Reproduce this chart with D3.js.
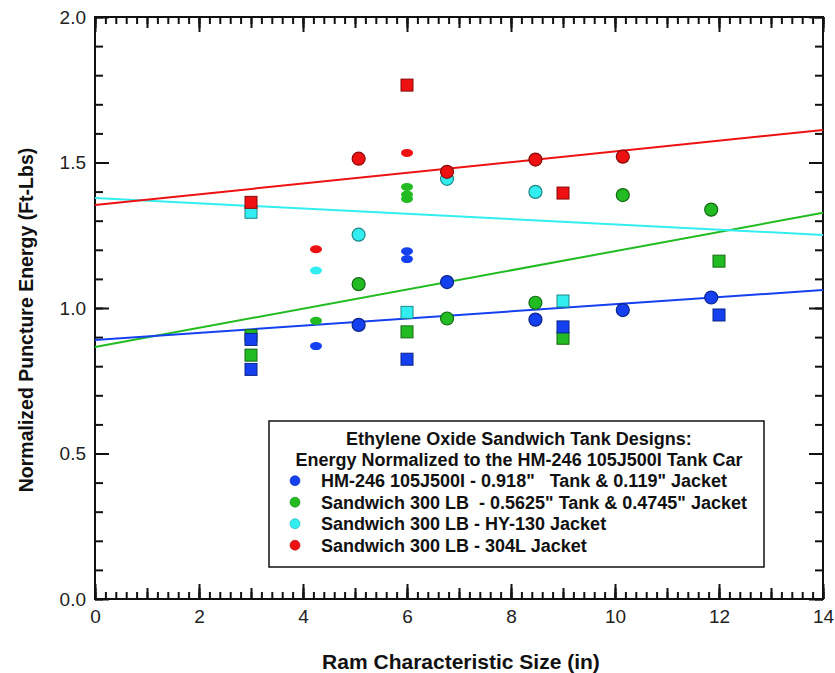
<!DOCTYPE html>
<html>
<head>
<meta charset="utf-8">
<script src="https://cdn.jsdelivr.net/npm/d3@7"></script>
<style>
  body { margin: 0; background: #fff; }
  svg { font-family: "Liberation Sans", Arial, sans-serif; }
  .tick line { stroke: #111; stroke-width: 2px; }
</style>
</head>
<body>
<svg id="chart"></svg>
<script>
// series order: HM-246, Sandwich 0.5625", HY-130, 304L
var seriesNames = [
  "HM-246 105J500I - 0.918\"\u00a0\u00a0\u00a0Tank & 0.119\" Jacket",
  "Sandwich 300 LB\u00a0\u00a0- 0.5625\" Tank & 0.4745\" Jacket",
  "Sandwich 300 LB - HY-130 Jacket",
  "Sandwich 300 LB - 304L Jacket"
];
var seriesColors = ["#1440f0", "#22bb22", "#33eef0", "#ee1111"];

var hmCircles  = [[5.07, 0.942], [6.77, 1.089], [8.47, 0.960], [10.15, 0.993], [11.85, 1.036]];
var hmSquares  = [[3.0, 0.892], [3.0, 0.789], [6.0, 0.824], [9.0, 0.935], [12.0, 0.976]];
var hmDashes   = [[4.25, 0.869], [6.0, 1.195], [6.0, 1.168]];

var swCircles  = [[5.07, 1.082], [6.77, 0.964], [8.47, 1.018], [10.15, 1.388], [11.85, 1.338]];
var swSquares  = [[3.0, 0.905], [3.0, 0.838], [6.0, 0.918], [9.0, 0.896], [12.0, 1.161]];
var swDashes   = [[4.25, 0.956], [6.0, 1.416], [6.0, 1.390], [6.0, 1.375]];

var hyCircles  = [[5.07, 1.252], [6.77, 1.444], [8.47, 1.399]];
var hySquares  = [[3.0, 1.329], [6.0, 0.985], [9.0, 1.024]];
var hyDashes   = [[4.25, 1.129]];

var ssCircles  = [[5.07, 1.513], [6.77, 1.468], [8.47, 1.510], [10.15, 1.520]];
var ssSquares  = [[3.0, 1.363], [6.0, 1.766], [9.0, 1.395]];
var ssDashes   = [[4.25, 1.202], [6.0, 1.533]];

// linear fits, value at x=0 and at x=14
var fitStart = [0.890, 0.866, 1.378, 1.354];
var fitEnd   = [1.062, 1.327, 1.251, 1.612];

var xTickLabels = [0, 2, 4, 6, 8, 10, 12, 14];
var yTickLabels = [0.0, 0.5, 1.0, 1.5, 2.0];

var legendTitle = ["Ethylene Oxide Sandwich Tank Designs:",
                   "Energy Normalized to the HM-246 105J500I Tank Car"];

(function(){
  var W = 835, H = 673;
  var margin = {top: 17, right: 12, bottom: 74, left: 95},
      width = W - margin.left - margin.right,
      height = H - margin.top - margin.bottom;

  var svg = d3.select("#chart").attr("width", W).attr("height", H);
  var g = svg.append("g").attr("transform", "translate(" + margin.left + "," + margin.top + ")");

  var x = d3.scaleLinear().domain([0, 14]).range([0, width]);
  var y = d3.scaleLinear().domain([0, 2]).range([height, 0]);

  // ticks, all pointing inward
  function ticks(axisFn, vals, size, tr) {
    g.append("g").attr("transform", tr)
      .call(axisFn.tickValues(vals).tickSize(size).tickFormat(""))
      .call(function(s){ s.select(".domain").remove(); });
  }
  var xMinor = d3.range(0, 14.001, 0.2), xMid = d3.range(0, 15, 1), xMajor = d3.range(0, 15, 2);
  var yMinor = d3.range(0, 2.001, 0.1), yMajor = d3.range(0, 2.01, 0.5);
  [[xMinor, 7], [xMid, 11], [xMajor, 15]].forEach(function(t){
    ticks(d3.axisTop(x), t[0], t[1], "translate(0," + height + ")");
    ticks(d3.axisBottom(x), t[0], t[1], "translate(0,0)");
  });
  [[yMinor, 8], [yMajor, 14]].forEach(function(t){
    ticks(d3.axisRight(y), t[0], t[1], "translate(0,0)");
    ticks(d3.axisLeft(y), t[0], t[1], "translate(" + width + ",0)");
  });

  // tick labels
  var lab = g.append("g").attr("class", "labels");
  lab.append("g").attr("transform", "translate(0," + height + ")")
    .call(d3.axisBottom(x).tickValues(xTickLabels).tickSize(0).tickPadding(11).tickFormat(d3.format("d")))
    .call(function(s){ s.select(".domain").remove(); });
  lab.append("g")
    .call(d3.axisLeft(y).tickValues(yTickLabels).tickSize(0).tickPadding(9).tickFormat(d3.format(".1f")))
    .call(function(s){ s.select(".domain").remove(); });
  lab.selectAll("text")
    .attr("font-family", null)
    .style("font-size", "19px").style("fill", "#222");

  // frame
  g.append("rect").attr("width", width).attr("height", height)
    .attr("fill", "none").attr("stroke", "#111").attr("stroke-width", 2);

  // axis titles
  svg.append("text")
    .attr("x", margin.left + width / 2 + 2).attr("y", 669)
    .attr("text-anchor", "middle")
    .style("font-size", "21px").style("font-weight", "bold").style("fill", "#111")
    .text("Ram Characteristic Size (in)");
  svg.append("text")
    .attr("transform", "translate(33," + (margin.top + height / 2 + 12) + ") rotate(-90)")
    .attr("text-anchor", "middle")
    .style("font-size", "19.5px").style("font-weight", "bold").style("fill", "#111")
    .text("Normalized Puncture Energy (Ft-Lbs)");

  // fit lines
  var line = d3.line().x(function(d){ return x(d[0]); }).y(function(d){ return y(d[1]); });
  var drawOrder = [1, 0, 2, 3];
  drawOrder.forEach(function(i){
    g.append("path")
      .datum([[0, fitStart[i]], [14, fitEnd[i]]])
      .attr("d", line)
      .attr("fill", "none")
      .attr("stroke", seriesColors[i])
      .attr("stroke-width", 2);
  });

  var circles = [hmCircles, swCircles, hyCircles, ssCircles];
  var squares = [hmSquares, swSquares, hySquares, ssSquares];
  var dashes  = [hmDashes, swDashes, hyDashes, ssDashes];

  drawOrder.forEach(function(i){
    var col = seriesColors[i];
    var edge = d3.color(col).darker(1.6);
    var s = g.append("g");
    s.selectAll("ellipse")
      .data(dashes[i])
      .enter().append("ellipse")
      .attr("cx", function(d){ return x(d[0]); })
      .attr("cy", function(d){ return y(d[1]); })
      .attr("rx", 6).attr("ry", 4)
      .attr("fill", col);
    s.selectAll("rect")
      .data(squares[i])
      .enter().append("rect")
      .attr("x", function(d){ return x(d[0]) - 6; })
      .attr("y", function(d){ return y(d[1]) - 6; })
      .attr("width", 12).attr("height", 12)
      .attr("fill", col).attr("stroke", edge).attr("stroke-width", 1);
    s.selectAll("circle")
      .data(circles[i])
      .enter().append("circle")
      .attr("cx", function(d){ return x(d[0]); })
      .attr("cy", function(d){ return y(d[1]); })
      .attr("r", 6.5)
      .attr("fill", col).attr("stroke", edge).attr("stroke-width", 1.2);
  });

  // legend
  var lg = svg.append("g").attr("transform", "translate(269,421)");
  lg.append("rect").attr("width", 495).attr("height", 146)
    .attr("fill", "#fff").attr("stroke", "#111").attr("stroke-width", 1.5);
  lg.selectAll("text.title")
    .data(legendTitle)
    .enter().append("text")
    .attr("class", "title")
    .attr("x", 250)
    .attr("y", function(d, i){ return 23.5 + i * 21; })
    .attr("text-anchor", "middle")
    .style("font-size", "18px").style("font-weight", "bold").style("fill", "#111")
    .text(function(d){ return d; });
  var rows = lg.selectAll("g.row")
    .data(seriesNames)
    .enter().append("g")
    .attr("class", "row")
    .attr("transform", function(d, i){ return "translate(0," + (59.7 + i * 21.5) + ")"; });
  rows.append("circle")
    .attr("cx", 26).attr("cy", 0).attr("r", 5)
    .attr("fill", function(d, i){ return seriesColors[i]; })
    .attr("stroke", function(d, i){ return d3.color(seriesColors[i]).darker(1); })
    .attr("stroke-width", 0.6);
  rows.append("text")
    .attr("x", 52).attr("y", 6.3)
    .style("font-size", "18px").style("font-weight", "bold").style("fill", "#111")
    .text(function(d){ return d; });
})();
</script>
</body>
</html>
